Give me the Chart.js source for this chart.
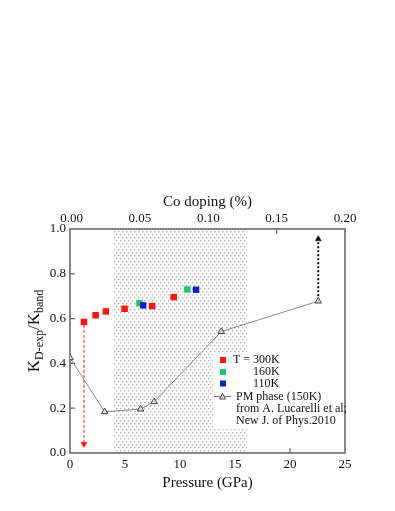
<!DOCTYPE html>
<html><head><meta charset="utf-8">
<style>html,body{margin:0;padding:0;background:#fff;}</style>
<script src="https://cdn.jsdelivr.net/npm/chart.js@4/dist/chart.umd.min.js"></script>
</head><body>
<canvas id="c" width="395" height="511"></canvas>
<script>
// ---- data ----
const pressure300 = [1.27, 2.33, 3.26, 4.96, 7.47, 9.43];
const k300        = [0.585, 0.615, 0.632, 0.644, 0.656, 0.696];
const pressure160 = [6.32, 10.67];
const k160        = [0.669, 0.730];
const pressure110 = [6.65, 11.46];
const k110        = [0.659, 0.729];
const pressurePM  = [0, 3.15, 6.41, 7.65, 13.75, 22.57];
const kPM         = [0.425, 0.184, 0.196, 0.229, 0.542, 0.678];
const redArrowX   = [1.27, 1.27];
const redArrowY   = [0.572, 0.04];
const blackArrowX = [22.57, 22.57];
const blackArrowY = [0.70, 0.955];
const shadedPressure = [3.99, 16.08];
const pressureTicks = [0, 5, 10, 15, 20, 25];
const kTicks = [0, 0.2, 0.4, 0.6, 0.8, 1.0];
const coTicks = [0, 0.05, 0.10, 0.15, 0.20];
const legendLabels = ['T = 300K', '160K', '110K', 'PM phase (150K)', 'from A. Lucarelli et al;', 'New J. of Phys.2010'];

const SERIF = '"Liberation Serif", "DejaVu Serif", serif';
const C300 = '#ff1414', C160 = '#1fc46c', C110 = '#1020c4';
const pts = (xs, ys) => xs.map((x, i) => ({x, y: ys[i]}));

// dotted shading pattern (staggered dots)
const pc = document.createElement('canvas'); pc.width = 4; pc.height = 6;
const pctx = pc.getContext('2d');
pctx.fillStyle = '#b8b8b8'; pctx.fillRect(0, 0, 1, 1); pctx.fillRect(2, 3, 1, 1);
pctx.fillStyle = '#dcdcdc'; pctx.fillRect(1, 0, 1, 1); pctx.fillRect(3, 3, 1, 1);
pctx.fillRect(0, 1, 1, 1); pctx.fillRect(2, 4, 1, 1);

const decor = {
  id: 'decor',
  beforeDatasetsDraw(chart) {
    const {ctx, chartArea: a, scales} = chart;
    ctx.save();
    // inward ticks
    ctx.strokeStyle = '#666'; ctx.lineWidth = 1.2;
    ctx.beginPath();
    kTicks.slice(1, -1).forEach(v => { const y = scales.y.getPixelForValue(v); ctx.moveTo(a.left, y); ctx.lineTo(a.left + 5, y); });
    pressureTicks.slice(1, -1).forEach(v => { const x = scales.x.getPixelForValue(v); ctx.moveTo(x, a.bottom); ctx.lineTo(x, a.bottom - 5); });
    coTicks.slice(1, -1).forEach(v => { const x = scales.x2.getPixelForValue(v); ctx.moveTo(x, a.top); ctx.lineTo(x, a.top + 5); });
    ctx.stroke();
    // shaded pressure range
    const x0 = scales.x.getPixelForValue(shadedPressure[0]);
    const x1 = scales.x.getPixelForValue(shadedPressure[1]);
    ctx.fillStyle = '#fff';
    ctx.fillRect(x0, a.top + 1, x1 - x0, a.bottom - a.top - 2);
    ctx.fillStyle = ctx.createPattern(pc, 'repeat');
    ctx.fillRect(x0, a.top + 1, x1 - x0, a.bottom - a.top - 2);
    // frame
    ctx.strokeStyle = '#6a6a6a'; ctx.lineWidth = 1.6;
    ctx.strokeRect(a.left, a.top, a.right - a.left, a.bottom - a.top);
    ctx.restore();
  },
  afterDatasetsDraw(chart) {
    const {ctx, chartArea: a} = chart;
    ctx.save();
    // legend box
    const lx = a.right - 132, ly = 352;
    ctx.fillStyle = '#fff';
    ctx.fillRect(lx, ly, a.right - lx - 1, 76);
    ctx.font = '12px ' + SERIF; ctx.fillStyle = '#111'; ctx.textBaseline = 'middle'; ctx.textAlign = 'left';
    const sq = (c, y) => { ctx.fillStyle = c; ctx.fillRect(lx + 7, y - 3, 6, 6); };
    sq(C300, 360); sq(C160, 372); sq(C110, 383.5);
    ctx.fillStyle = '#111';
    ctx.fillText(legendLabels[0], lx + 20, 360);
    ctx.fillText(legendLabels[1], lx + 40, 372);
    ctx.fillText(legendLabels[2], lx + 40, 383.5);
    ctx.strokeStyle = '#777'; ctx.lineWidth = 1;
    ctx.beginPath(); ctx.moveTo(lx + 1, 396.5); ctx.lineTo(lx + 18, 396.5); ctx.stroke();
    ctx.beginPath(); ctx.moveTo(lx + 9.5, 393.5); ctx.lineTo(lx + 12.5, 399); ctx.lineTo(lx + 6.5, 399); ctx.closePath();
    ctx.fillStyle = '#ddd'; ctx.fill(); ctx.strokeStyle = '#444'; ctx.stroke();
    ctx.fillStyle = '#111';
    ctx.fillText(legendLabels[3], lx + 23, 396.5);
    ctx.fillText(legendLabels[4], lx + 23, 408.5);
    ctx.fillText(legendLabels[5], lx + 23, 420.5);
    ctx.restore();
  },
  afterDraw(chart) {
    const {ctx} = chart;
    ctx.save();
    ctx.translate(39, 331); ctx.rotate(-Math.PI / 2);
    const parts = [['K', 17, 0], ['D-exp', 12, 4], ['/K', 17, 0], ['band', 12, 4]];
    let total = 0;
    parts.forEach(p => { ctx.font = p[1] + 'px ' + SERIF; p.push(ctx.measureText(p[0]).width); total += p[3]; });
    let x = -total / 2;
    ctx.fillStyle = '#111'; ctx.textBaseline = 'alphabetic'; ctx.textAlign = 'left';
    parts.forEach(p => { ctx.font = p[1] + 'px ' + SERIF; ctx.fillText(p[0], x, p[2]); x += p[3]; });
    ctx.restore();
  }
};

const tickFont = {family: SERIF, size: 13};
const noGrid = {display: false, drawTicks: false, tickLength: 0};
new Chart(document.getElementById('c'), {
  type: 'scatter',
  data: {
    datasets: [
      {label: 'red arrow', data: pts(redArrowX, redArrowY), showLine: true, borderColor: C300, borderWidth: 1, borderDash: [3, 2],
       pointStyle: 'triangle', pointRadius: [0, 3.5], pointRotation: [0, 180], pointBackgroundColor: C300, pointBorderColor: C300, pointBorderWidth: 0.5, order: 5},
      {label: 'black arrow', data: pts(blackArrowX, blackArrowY), showLine: true, borderColor: '#111', borderWidth: 2, borderDash: [2, 2],
       pointStyle: 'triangle', pointRadius: [0, 3.5], pointRotation: [0, 0], pointBackgroundColor: '#111', pointBorderColor: '#111', pointBorderWidth: 0.5, order: 5},
      {label: 'PM phase (150K)', data: pts(pressurePM, kPM), showLine: true, borderColor: '#888', borderWidth: 1,
       pointStyle: 'triangle', pointRadius: 3.8, pointBackgroundColor: '#ddd', pointBorderColor: '#444', pointBorderWidth: 1, order: 4},
      {label: 'T = 300K', data: pts(pressure300, k300), pointStyle: 'rect', pointRadius: 4.6, backgroundColor: C300, borderColor: C300, borderWidth: 0, order: 1},
      {label: '160K', data: pts(pressure160, k160), pointStyle: 'rect', pointRadius: 4.6, backgroundColor: C160, borderColor: C160, borderWidth: 0, order: 2},
      {label: '110K', data: pts(pressure110, k110), pointStyle: 'rect', pointRadius: 4.6, backgroundColor: C110, borderColor: C110, borderWidth: 0, order: 1}
    ]
  },
  options: {
    responsive: false, animation: false, devicePixelRatio: 1,
    layout: {padding: {top: 188, right: 50, bottom: 18, left: 0}},
    plugins: {legend: {display: false}, tooltip: {enabled: false}},
    scales: {
      x: {type: 'linear', position: 'bottom', min: 0, max: 25,
          afterBuildTicks: s => { s.ticks = pressureTicks.map(v => ({value: v})); },
          ticks: {font: tickFont, color: '#111', padding: 4, maxRotation: 0, autoSkip: false},
          grid: noGrid, border: {display: false},
          title: {display: true, text: 'Pressure (GPa)', font: {family: SERIF, size: 15}, color: '#111', padding: {top: 0, bottom: 1}},
          afterFit: s => { s.height = 40; }},
      x2: {type: 'linear', position: 'top', min: -0.0012, max: 0.2,
          afterBuildTicks: s => { s.ticks = coTicks.map(v => ({value: v})); },
          ticks: {font: tickFont, color: '#111', padding: 3, maxRotation: 0, autoSkip: false, callback: v => v.toFixed(2)},
          grid: noGrid, border: {display: false},
          title: {display: true, text: 'Co doping (%)', font: {family: SERIF, size: 15}, color: '#111', padding: {top: 5, bottom: 0}},
          afterFit: s => { s.height = 41; }},
      y: {type: 'linear', position: 'left', min: 0, max: 1,
          afterBuildTicks: s => { s.ticks = kTicks.map(v => ({value: v})); },
          ticks: {font: tickFont, color: '#111', padding: 4, callback: v => v.toFixed(1)},
          grid: noGrid, border: {display: false},
          afterFit: s => { s.width = 70; }}
    }
  },
  plugins: [decor]
});
</script>
</body></html>
